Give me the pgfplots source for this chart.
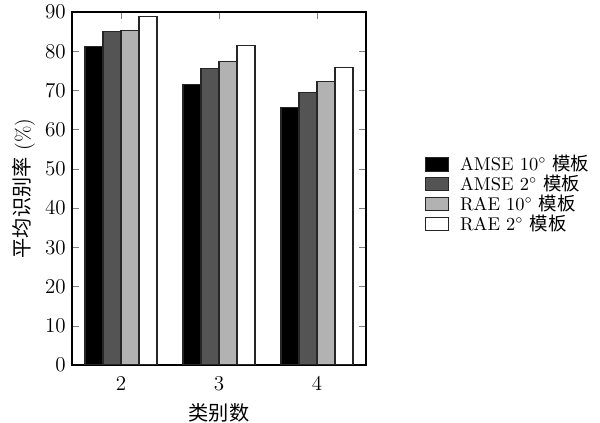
\documentclass[border=0pt]{standalone}
\usepackage{fontspec}
\newfontfamily\cjk{Noto Sans CJK SC}
\usepackage{pgfplots}
\pgfplotsset{compat=1.18}

\definecolor{barA}{gray}{0.0}
\definecolor{barB}{gray}{0.33}
\definecolor{barC}{gray}{0.70}
\definecolor{barD}{gray}{1.0}

\begin{document}
\begin{tikzpicture}
\useasboundingbox (-1.44,-1.16) rectangle (10.56,7.3);
\begin{axis}[
  at={(0,0)}, anchor=south west,
  scale only axis,
  width=5.88cm, height=7.06cm,
  ybar=0pt, bar width=0.36cm,
  xmin=1.5, xmax=4.5,
  ymin=0, ymax=90,
  xtick={2,3,4},
  ytick={0,10,...,90},
  tick align=inside,
  major tick length=4pt,
  axis line style={line width=0.8pt},
  tick label style={font=\fontsize{11.5}{13}\selectfont},
  label style={font=\fontsize{11.5}{13}\selectfont},
  xticklabel shift=3pt,
  xlabel={\cjk 类别数},
  ylabel={{\cjk 平均识别率} (\%)},
  ylabel style={yshift=-1pt},
  xlabel style={yshift=-1pt},
  legend style={at={(1.18,0.484)}, anchor=west, draw=none, fill=none,
                row sep=-3pt, font=\fontsize{10.5}{12}\selectfont},
  legend cell align=left,
  legend image code/.code={\draw[#1,line width=0.6pt] (0cm,-0.135cm) rectangle (0.46cm,0.135cm);
                           \path (0.62cm,0);},
  every axis plot/.append style={draw=black!85, line width=0.6pt},
]
\addplot[fill=barA] coordinates {(2,81.1) (3,71.6) (4,65.6)};
\addlegendentry{AMSE 10$^\circ$ {\cjk 模板}}
\addplot[fill=barB] coordinates {(2,85.1) (3,75.6) (4,69.5)};
\addlegendentry{AMSE 2$^\circ$ {\cjk 模板}}
\addplot[fill=barC] coordinates {(2,85.4) (3,77.5) (4,72.2)};
\addlegendentry{RAE 10$^\circ$ {\cjk 模板}}
\addplot[fill=barD] coordinates {(2,88.8) (3,81.4) (4,75.8)};
\addlegendentry{RAE 2$^\circ$ {\cjk 模板}}
\end{axis}
\end{tikzpicture}
\end{document}
